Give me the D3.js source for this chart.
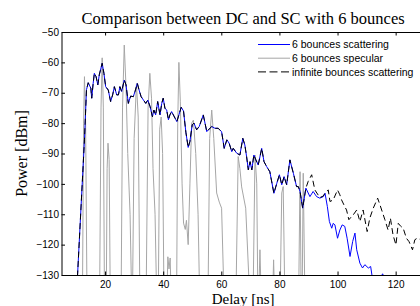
<!DOCTYPE html>
<html lang="en">
  <head>
    <meta charset="UTF-8" />
    <title>Comparison between DC and SC with 6 bounces</title>
    <script src="https://cdnjs.cloudflare.com/ajax/libs/d3/7.8.5/d3.min.js"></script>
    <style>
      body { margin: 0; background: #fff; }
      svg { display: block; }
      .tick-label { font-family: "Liberation Sans", Arial, sans-serif; font-size: 10px; fill: #000; }
      .serif { font-family: "Liberation Serif", "Times New Roman", serif; fill: #000; }
      .legend-text { font-family: "Liberation Sans", Arial, sans-serif; font-size: 10.5px; fill: #000; }
    </style>
  </head>
  <body>
    <div id="chart"></div>
    <script>
      /** Tick values */
      const xTicks = [20, 40, 60, 80, 100, 120];
      const yTicks = [-130, -120, -110, -100, -90, -80, -70, -60, -50];

      /** Series names */
      const seriesNames = ["6 bounces scattering", "6 bounces specular", "infinite bounces scattering"];

      /** 6 bounces scattering: [delay ns, power dBm] */
      const scattering = [
        [10.5, -130.5], [12.9, -85.5], [13.6, -69], [14.2, -66.7], [15.1, -68.5], [15.4, -71.8],
        [15.9, -66.9], [16.3, -63.6], [16.9, -64.7], [17.5, -67.4], [18.0, -64.1], [19.0, -60.3],
        [19.6, -63.6], [20.2, -68.0], [21.1, -69.1], [21.9, -72.9], [22.6, -70.7], [23.2, -68.0],
        [24.0, -70.7], [24.6, -70.7], [25.1, -68.0], [25.7, -69.6], [26.6, -65.8], [27.2, -67.4],
        [28.0, -73.5], [28.8, -71.1], [29.7, -71.3], [30.3, -69.6], [31.1, -66.9], [31.7, -69.1],
        [32.4, -71.3], [33.2, -72.4], [34.0, -73.5], [34.7, -72.4], [35.5, -74.6], [36.3, -77.9],
        [36.8, -75.7], [37.4, -77.3], [38.1, -72.9], [38.9, -77.3], [39.5, -73.5], [40.0, -71.8],
        [40.6, -75.1], [41.2, -75.7], [41.8, -78.9], [42.3, -77.3], [42.9, -76.2], [44.1, -78.4],
        [44.7, -79.5], [45.4, -77.3], [46.2, -74.8], [47.0, -76.0], [47.8, -83.0], [48.6, -88.0],
        [49.2, -86.0], [50.0, -80.5], [50.6, -80.0], [51.5, -82.2], [52.4, -81.1], [53.8, -77.3],
        [55.0, -82.8], [56.7, -81.1], [57.8, -81.7], [58.9, -81.7], [60.1, -82.8], [61.0, -88.3],
        [61.9, -85.5], [62.7, -86.6], [63.6, -89.4], [64.1, -88.3], [65.3, -89.9], [66.4, -90.5],
        [67.4, -85.0], [68.1, -87.2], [68.7, -91.0], [69.3, -95.4], [69.9, -92.7], [70.5, -95.4],
        [71.2, -90.5], [71.9, -92.1], [72.7, -93.8], [73.9, -88.3], [74.7, -92.7], [75.6, -94.3],
        [76.7, -96.0], [78.1, -103.1], [79.1, -99.8], [80.0, -97.0], [80.8, -100.3], [81.6, -97.6],
        [82.5, -100.3], [83.6, -92.1], [84.8, -96.5], [85.9, -100.9], [86.5, -100.9], [87.1, -102.5],
        [88.0, -108.0], [89.1, -101.4], [90.5, -104.2], [91.6, -102.5], [92.8, -104.2], [93.9, -104.7],
        [95.1, -104.2], [95.7, -103.1], [96.5, -107.5], [97.2, -112.4], [98.0, -114.6], [98.5, -113.0],
        [99.1, -113.5], [100.0, -117.9], [100.8, -115.2], [101.6, -113.5], [102.5, -114.0], [103.3, -117.9],
        [104.3, -123.9], [105.2, -119.0], [106.0, -116.2], [106.6, -121.7], [107.7, -126.1], [108.6, -127.7],
        [109.4, -126.6], [110.6, -127.7], [111.4, -127.2], [112.0, -131.0], [114.8, -131.0], [115.5, -129.6],
        [116.2, -131.0], [117.0, -135.0]
      ];

      /** infinite bounces scattering: follows the 6 bounces curve up to 88 ns, then this tail */
      const infiniteTail = [
        [88.0, -108.0], [89.1, -101.4], [89.9, -99.2], [91.1, -97.0], [92.2, -102.0], [93.9, -104.5],
        [95.1, -104.0], [95.7, -103.0], [96.8, -102.0], [97.4, -105.8], [98.5, -105.3], [100.0, -102.0],
        [100.8, -103.6], [101.4, -105.3], [102.5, -107.5], [103.1, -108.6], [103.9, -111.8], [104.8, -110.8],
        [105.4, -110.2], [106.6, -108.6], [107.7, -112.4], [108.8, -108.6], [110.2, -115.7], [111.1, -111.3],
        [112.3, -108.0], [113.8, -104.7], [114.6, -106.9], [116.3, -111.8], [117.4, -115.2], [118.2, -111.3],
        [119.1, -116.8], [120.1, -120.1], [120.9, -113.0], [121.8, -114.0], [122.6, -114.6], [123.7, -117.9],
        [124.6, -119.0], [125.8, -121.7], [126.6, -118.4], [127.4, -117.9], [128.4, -118.2], [129.5, -117.0]
      ];

      /** 6 bounces specular */
      const specular = [
        [12.2, -140], [12.6, -80], [12.9, -64.7], [13.3, -80], [13.8, -140],
        [18.1, -140], [18.6, -75], [19.0, -58.5], [19.4, -75], [19.8, -140],
        [20.4, -140], [20.7, -95], [21.0, -86.6], [21.4, -92], [21.8, -140],
        [25.5, -140], [26.0, -75], [26.6, -54.3], [27.2, -68], [27.8, -90], [28.6, -110], [29.2, -140],
        [29.4, -140], [30.0, -85], [30.8, -67], [31.4, -78], [32.0, -140],
        [34.1, -140], [34.8, -75], [35.4, -63.6], [36.0, -72], [36.5, -95], [37.2, -110], [37.8, -140],
        [38.3, -140], [38.8, -82], [39.3, -78], [39.8, -90], [40.3, -140],
        [41.2, -140], [41.6, -124], [42.0, -128], [42.4, -124.4], [42.8, -140],
        [44.6, -140], [45.0, -80], [45.4, -60], [45.9, -73], [46.5, -100], [47.0, -112.9], [47.6, -115],
        [48.0, -112], [48.6, -120], [49.2, -100], [49.8, -80], [50.4, -79], [51.2, -90], [52.0, -110], [52.6, -140],
        [55.4, -140], [56.0, -85], [56.7, -75.7], [57.4, -85], [58.4, -103], [59.3, -106], [60.1, -108], [61.0, -140],
        [65.0, -140], [65.8, -91], [66.4, -95], [67.0, -101], [68.4, -108], [69.9, -140],
        [70.9, -140], [71.6, -90.5], [72.2, -100], [72.6, -140],
        [72.8, -140], [73.3, -121.7], [73.8, -140],
        [77.6, -140], [78.0, -125], [78.4, -140],
        [80.2, -140], [80.8, -103], [81.3, -100.9], [81.9, -140],
        [86.6, -140], [87.1, -96], [87.5, -140], [87.8, -140], [88.2, -96.5], [88.8, -140],
        [90.0, -140]
      ];

      const infinite = scattering.filter((d) => d[0] < 88).concat(infiniteTail);

      /** Graph configs */
      const width = 420;
      const height = 306;
      const plotLeft = 61.5;
      const plotRight = 424.7;
      const plotTop = 32;
      const plotBottom = 275;
      const tickLen = 3.5;

      const xScale = d3.scaleLinear().domain([5, 130]).range([plotLeft, plotRight]);
      const yScale = d3.scaleLinear().domain([-130, -50]).range([plotBottom, plotTop]);

      const svg = d3
        .select("#chart")
        .append("svg")
        .attr("width", width)
        .attr("height", height);

      svg.append("rect").attr("width", width).attr("height", height).attr("fill", "#fff");

      svg
        .append("clipPath")
        .attr("id", "plot-clip")
        .append("rect")
        .attr("x", plotLeft)
        .attr("y", plotTop)
        .attr("width", plotRight - plotLeft)
        .attr("height", plotBottom - plotTop);

      const line = d3
        .line()
        .x((d) => xScale(d[0]))
        .y((d) => yScale(d[1]));

      const plot = svg.append("g").attr("clip-path", "url(#plot-clip)");

      /** Draw series */
      plot.append("path").datum(specular)
        .attr("fill", "none").attr("stroke", "#a6a6a6").attr("stroke-width", 1)
        .attr("d", line);
      plot.append("path").datum(scattering)
        .attr("fill", "none").attr("stroke", "#0000ff").attr("stroke-width", 1)
        .attr("d", line);
      plot.append("path").datum(infinite)
        .attr("fill", "none").attr("stroke", "#000").attr("stroke-width", 1)
        .attr("stroke-dasharray", "6,3.5")
        .attr("d", line);

      /** Axes: MATLAB style box with inward ticks */
      const xAxisBottom = d3.axisBottom(xScale).tickValues(xTicks).tickSizeInner(-tickLen).tickSizeOuter(0).tickPadding(6);
      const xAxisTop = d3.axisTop(xScale).tickValues(xTicks).tickSizeInner(-tickLen).tickSizeOuter(0).tickFormat("");
      const yAxisLeft = d3.axisLeft(yScale).tickValues(yTicks).tickSizeInner(-tickLen).tickSizeOuter(0).tickPadding(2.5)
        .tickFormat((d) => String(d).replace("-", "\u2212"));

      const styleAxis = (g) => {
        g.select(".domain").attr("stroke", "#000").attr("stroke-width", 1);
        g.selectAll(".tick line").attr("stroke", "#000");
        g.selectAll(".tick text").attr("class", "tick-label");
        g.attr("font-size", null).attr("font-family", null);
      };

      svg.append("g").attr("transform", `translate(0, ${plotBottom})`).call(xAxisBottom).call(styleAxis);
      svg.append("g").attr("transform", `translate(0, ${plotTop})`).call(xAxisTop).call(styleAxis);
      svg.append("g").attr("transform", `translate(${plotLeft}, 0)`).call(yAxisLeft).call(styleAxis);

      /** Titles */
      const midX = (plotLeft + plotRight) / 2;
      svg.append("text").attr("class", "serif")
        .attr("x", midX).attr("y", 24)
        .attr("text-anchor", "middle").attr("font-size", 16.5)
        .text("Comparison between DC and SC with 6 bounces");
      svg.append("text").attr("class", "serif")
        .attr("x", midX).attr("y", 303.8)
        .attr("text-anchor", "middle").attr("font-size", 15)
        .text("Delay [ns]");
      svg.append("text").attr("class", "serif")
        .attr("transform", `translate(27, ${(plotTop + plotBottom) / 2}) rotate(-90)`)
        .attr("text-anchor", "middle").attr("font-size", 16)
        .text("Power [dBm]");

      /** Legend */
      const legendStyles = [
        { stroke: "#0000ff", dash: null },
        { stroke: "#a6a6a6", dash: null },
        { stroke: "#000", dash: "8,3.5" },
      ];
      const legend = svg.append("g").attr("transform", "translate(258, 44.5)");
      seriesNames.forEach((name, i) => {
        const row = legend.append("g").attr("transform", `translate(0, ${i * 13.7})`);
        row.append("line")
          .attr("x1", 0).attr("x2", 32).attr("y1", 0).attr("y2", 0)
          .attr("stroke", legendStyles[i].stroke).attr("stroke-width", 1)
          .attr("stroke-dasharray", legendStyles[i].dash);
        row.append("text").attr("class", "legend-text")
          .attr("x", 34).attr("y", 3.8)
          .text(name);
      });
    </script>
  </body>
</html>
